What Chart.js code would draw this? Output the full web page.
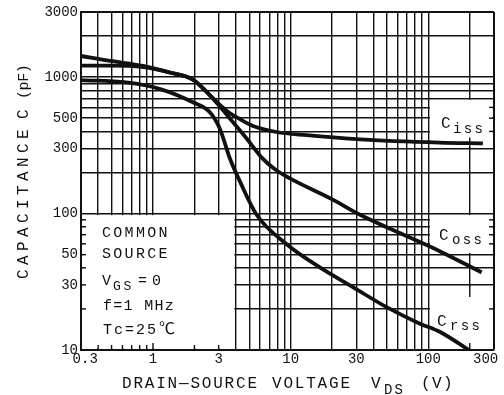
<!DOCTYPE html>
<html>
<head>
<meta charset="utf-8">
<script src="https://cdn.jsdelivr.net/npm/chart.js@4/dist/chart.umd.min.js"></script>
<style>
html,body{margin:0;padding:0;background:#fff;}
#wrap{width:504px;height:395px;}
</style>
</head>
<body>
<div id="wrap"><canvas id="c" width="504" height="395"></canvas></div>
<script>
// ---- data ----
const vdsCiss = [0.3, 0.49, 0.85, 1.33, 1.95, 2.39, 2.92, 3.5, 4.28, 5.32, 7.9, 13.1, 30, 121, 249];
const ciss    = [1213, 1213, 1184, 1080, 960, 799, 654, 558, 492, 438, 396, 375, 351, 331, 327];

const vdsCoss = [0.3, 0.49, 0.85, 1.33, 1.95, 2.39, 2.92, 3.81, 4.82, 6.19, 7.69, 9.88, 20.4, 31.9, 62, 121, 244];
const coss    = [1428, 1313, 1208, 1080, 960, 799, 643, 468, 352, 256, 211, 181, 126, 98, 72, 53, 37];

const vdsCrss = [0.3, 0.64, 1.13, 1.95, 2.59, 3.06, 3.62, 4.28, 5.66, 9.36, 16.3, 28.5, 49.8, 86.9, 121, 197];
const crss    = [950, 914, 817, 654, 553, 419, 253, 172, 98, 59.6, 40.3, 28.8, 20.6, 15.6, 13.6, 10];

// grid values and labelled ticks
const xGridValues = [0.3,0.4,0.5,0.6,0.7,0.8,0.9,1,2,3,4,5,6,7,8,9,10,20,30,40,50,60,70,80,90,100,200,300];
const yGridValues = [10,20,30,40,50,60,70,80,90,100,200,300,400,500,600,700,800,900,1000,2000,3000];
const xTickValues = [0.3, 1, 3, 10, 30, 100, 300];
const xTickLabels = ['0.3', '1', '3', '10', '30', '100', '300'];
const yTickValues = [10, 30, 50, 100, 300, 500, 1000, 3000];
const yTickLabels = ['10', '30', '50', '100', '300', '500', '1000', '3000'];

// blank (label) zones of the grid, in data units: [x0, x1, y0, y1]
const blankZones = [
  [0.3, 4, 10, 100],     // conditions box
  [100, 300, 300, 700],  // Ciss label
  [100, 300, 50, 100],   // Coss label
  [100, 300, 10, 30]     // Crss label
];

function findLabel(v, vals, labels) {
  const i = vals.findIndex(t => Math.abs(t - v) / t < 1e-6);
  return i < 0 ? '' : labels[i];
}
function pts(xs, ys) { return xs.map((v, i) => ({x: v, y: ys[i]})); }

const INK = '#111';
const MONO = '"Liberation Mono", "DejaVu Sans Mono", monospace';

function spaced(ctx, text, x, y, step, size) {
  ctx.font = size + 'px ' + MONO;
  ctx.textAlign = 'left';
  ctx.textBaseline = 'alphabetic';
  [...text].forEach((ch, i) => ctx.fillText(ch, x + i * step, y));
}

const overlay = {
  id: 'overlay',
  beforeDatasetsDraw(chart) {
    const ctx = chart.ctx, xs = chart.scales.x, ys = chart.scales.y;
    ctx.save();
    ctx.fillStyle = '#fff';
    blankZones.forEach(([x0, x1, y0, y1]) => {
      const l = xs.getPixelForValue(x0) + 1.6, r = xs.getPixelForValue(x1) - 1.6;
      const t = ys.getPixelForValue(y1) + 1.6, b = ys.getPixelForValue(y0) - 1.6;
      ctx.fillRect(l, t, r - l, b - t);
    });
    ctx.strokeStyle = INK;
    ctx.lineWidth = 1.4;
    const L = chart.chartArea.left, R = chart.chartArea.right, B = chart.chartArea.bottom;
    const seg = (x1, y1, x2, y2) => { ctx.beginPath(); ctx.moveTo(x1, y1); ctx.lineTo(x2, y2); ctx.stroke(); };
    // inward ticks, left edge of the conditions box
    [20,30,40,50,60,70,80,90].forEach(v => { const y = ys.getPixelForValue(v); seg(L, y, L + 5, y); });
    // inward ticks, bottom edge of the conditions box
    [0.4,0.5,0.6,0.7,0.8,0.9,1,2,3].forEach(v => { const x = xs.getPixelForValue(v); seg(x, B, x, B - (v === 1 ? 7 : 5)); });
    // inward ticks, right edge inside label zones
    [400,500,600,60,70,80,90,20].forEach(v => { const y = ys.getPixelForValue(v); seg(R, y, R - 5, y); });
    // 200 V stubs into label zones
    const x200 = xs.getPixelForValue(200);
    seg(x200, ys.getPixelForValue(300), x200, ys.getPixelForValue(300) - 11);
    seg(x200, ys.getPixelForValue(30), x200, ys.getPixelForValue(30) + 12);
    seg(x200, B, x200, B - 7);
    ctx.restore();
  },
  afterDatasetsDraw(chart) {
    const ctx = chart.ctx;
    ctx.save();
    ctx.fillStyle = INK;
    // curve labels
    spaced(ctx, 'C', 441, 128, 10, 16);  spaced(ctx, 'iss', 453, 133, 10.7, 14);
    spaced(ctx, 'C', 439, 240, 10, 16);  spaced(ctx, 'oss', 452, 244, 10.7, 14);
    spaced(ctx, 'C', 437, 326, 10, 16);  spaced(ctx, 'rss', 450, 330, 10.7, 14);
    // conditions
    spaced(ctx, 'COMMON', 102, 237, 11.3, 15);
    spaced(ctx, 'SOURCE', 102, 258, 11.3, 15);
    spaced(ctx, 'V', 102, 285, 11, 15);
    spaced(ctx, 'GS', 113, 290, 10.5, 13);
    spaced(ctx, '=0', 138, 285, 14, 15);
    spaced(ctx, 'f=1 MHz', 103, 310, 10.3, 15);
    spaced(ctx, 'Tc=25', 103, 334, 11, 15);
    ctx.font = '16px "Noto Sans CJK JP", "DejaVu Sans", sans-serif';
    ctx.fillText('\u2103', 159, 334);
    // x axis title
    spaced(ctx, 'DRAIN\u2014SOURCE', 122, 388, 11.4, 16);
    spaced(ctx, 'VOLTAGE', 272, 388, 11.4, 16);
    spaced(ctx, 'V', 371, 388, 11, 16);
    spaced(ctx, 'DS', 384, 394, 10.5, 14);
    spaced(ctx, '(V)', 421, 388, 11, 16);
    // y axis title (rotated)
    ctx.translate(28, 279);
    ctx.rotate(-Math.PI / 2);
    spaced(ctx, 'CAPACITANCE', 0, 0, 14, 16);
    spaced(ctx, 'C', 160, 0, 10, 16);
    spaced(ctx, '(pF)', 180, 0, 8.6, 15);
    ctx.restore();
  }
};

const gridWidth = (c) => {
  const v = c.tick ? c.tick.value : 0;
  return (v === 300 && c.scale.axis === 'x') || (v === 3000 && c.scale.axis === 'y') ? 2 : 1.4;
};

new Chart(document.getElementById('c'), {
  type: 'line',
  data: {
    datasets: [
      { label: 'Ciss', data: pts(vdsCiss, ciss) },
      { label: 'Coss', data: pts(vdsCoss, coss) },
      { label: 'Crss', data: pts(vdsCrss, crss) }
    ].map(d => Object.assign(d, {
      borderColor: INK, borderWidth: 3.8, pointRadius: 0, fill: false,
      cubicInterpolationMode: 'monotone'
    }))
  },
  options: {
    responsive: false,
    devicePixelRatio: 1,
    animation: false,
    events: [],
    layout: { padding: { top: 12, right: 10, bottom: 0, left: 0 } },
    plugins: { legend: { display: false }, tooltip: { enabled: false } },
    scales: {
      x: {
        type: 'logarithmic', min: 0.3, max: 300,
        afterBuildTicks: s => { s.ticks = xGridValues.map(v => ({ value: v })); },
        afterFit: s => { s.height = 45; s.paddingLeft = 0; s.paddingRight = 0; },
        grid: { color: INK, lineWidth: gridWidth, drawTicks: false },
        border: { color: INK, width: 2 },
        ticks: {
          autoSkip: false, maxRotation: 0, minRotation: 0, padding: 1, color: INK,
          font: { family: MONO, size: 14 },
          callback: (v) => {
            const s = findLabel(v, xTickValues, xTickLabels);
            if (v === 0.3) return ' ' + s;
            if (v === 300) return s + '  ';
            return s;
          }
        }
      },
      y: {
        type: 'logarithmic', min: 10, max: 3000,
        afterBuildTicks: s => { s.ticks = yGridValues.map(v => ({ value: v })); },
        afterFit: s => { s.width = 81; s.paddingTop = 0; s.paddingBottom = 0; },
        grid: { color: INK, lineWidth: gridWidth, drawTicks: false },
        border: { color: INK, width: 2 },
        ticks: {
          autoSkip: false, padding: 3, color: INK,
          font: { family: MONO, size: 14 },
          callback: (v) => findLabel(v, yTickValues, yTickLabels)
        }
      }
    }
  },
  plugins: [overlay]
});
</script>
</body>
</html>
